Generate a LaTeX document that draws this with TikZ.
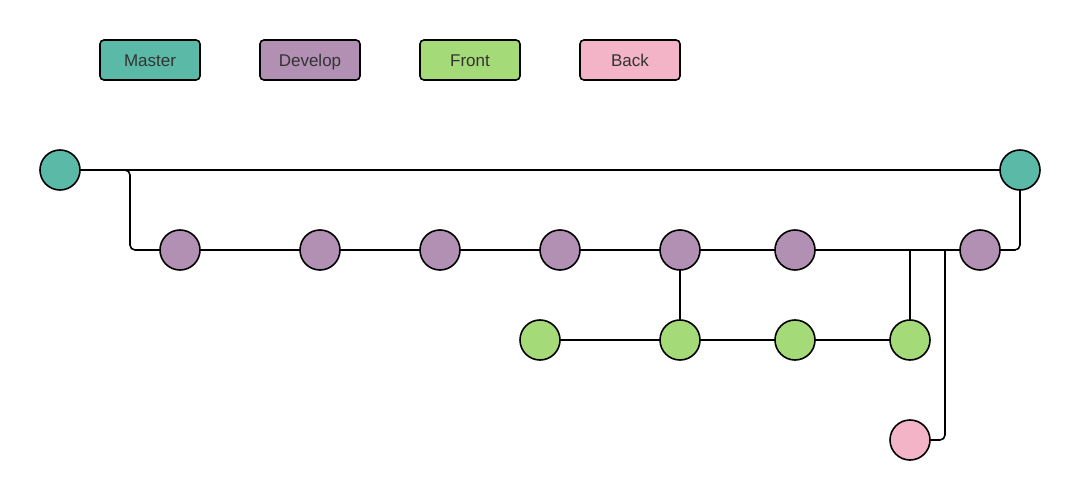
\documentclass[tikz,border=0pt]{standalone}
\usepackage{fontspec}
\setmainfont{Liberation Sans}
\usepackage{tikz}
\usetikzlibrary{positioning}

\definecolor{mastercol}{RGB}{91,186,167}
\definecolor{developcol}{RGB}{178,144,180}
\definecolor{frontcol}{RGB}{165,218,120}
\definecolor{backcol}{RGB}{244,180,200}
\definecolor{labelcol}{RGB}{51,51,51}

\tikzset{
    commit/.style={circle, draw=black, line width=1.6pt, minimum size=40pt, inner sep=0pt, outer sep=0pt},
    legend/.style={draw=black, line width=1.6pt, rounded corners=4pt, minimum width=100pt, minimum height=40pt, inner sep=0pt, outer sep=0pt, text height=13pt, text depth=0pt, text=labelcol, font=\fontsize{17}{20}\selectfont},
    branch/.style={line width=1.6pt, rounded corners=5pt},
}

\begin{document}
\begin{tikzpicture}[x=1pt, y=-1pt]

            \useasboundingbox (0,0) rectangle (1080,500);

            % legend
            \node[legend, fill=mastercol]                     (lmaster)  at (150,60) {Master};
            \node[legend, fill=developcol, right=60pt of lmaster] (ldevelop) {Develop};
            \node[legend, fill=frontcol, right=60pt of ldevelop]  (lfront)   {Front};
            \node[legend, fill=backcol, right=60pt of lfront]     (lback)    {Back};

            % commits
            \node[commit, fill=mastercol]  (m1) at (60,170) {};
            \node[commit, fill=mastercol]  (m2) at (1020,170) {};

            \node[commit, fill=developcol] (d1) at (180,250) {};
            \node[commit, fill=developcol] (d2) at (320,250) {};
            \node[commit, fill=developcol] (d3) at (440,250) {};
            \node[commit, fill=developcol] (d4) at (560,250) {};
            \node[commit, fill=developcol] (d5) at (680,250) {};
            \node[commit, fill=developcol] (d6) at (795,250) {};
            \node[commit, fill=developcol] (d7) at (980,250) {};

            \node[commit, fill=frontcol]   (f1) at (540,340) {};
            \node[commit, fill=frontcol]   (f2) at (680,340) {};
            \node[commit, fill=frontcol]   (f3) at (795,340) {};
            \node[commit, fill=frontcol]   (f4) at (910,340) {};

            \node[commit, fill=backcol]    (b1) at (910,440) {};

            \coordinate (fork)   at (130,250);
            \coordinate (fmerge) at (910,250);
            \coordinate (bmerge) at (945,250);

            % edges
            \draw[branch] (m1) -- (m2);
            \draw[branch] (m1) -| (fork) -- (d1);
            \draw[branch] (d1) -- (d2) -- (d3) -- (d4) -- (d5) -- (d6) -- (d7);
            \draw[branch] (d5) -- (f2);
            \draw[branch] (f1) -- (f2) -- (f3) -- (f4);
            \draw[branch] (f4) -- (fmerge);
            \draw[branch] (b1) -| (bmerge);
            \draw[branch] (d7) -| (m2);

        \end{tikzpicture}
\end{document}
